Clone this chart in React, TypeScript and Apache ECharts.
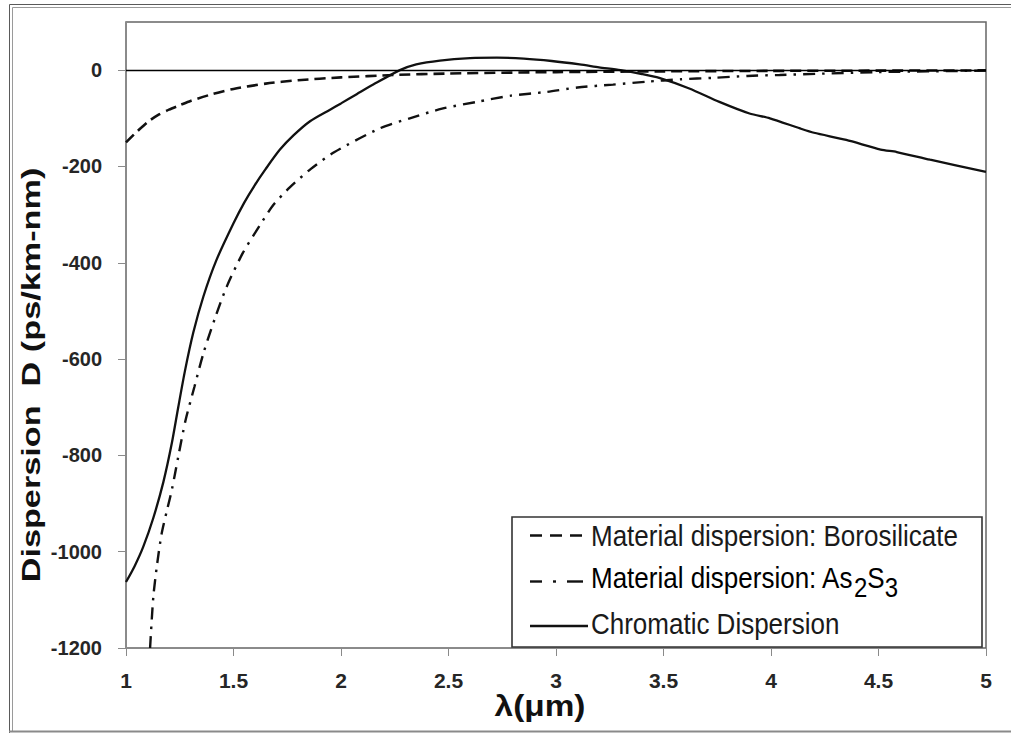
import React, { useEffect, useRef } from "react";
import * as echarts from "echarts";

// Wavelength (µm) and dispersion (ps/km-nm) samples for each curve
const boroLambda = [1.0, 1.05, 1.1, 1.15, 1.2, 1.25, 1.3, 1.4, 1.5, 1.65, 1.8, 2.0, 2.25, 2.5, 3.0, 3.5, 4.0, 4.5, 5.0];
const boroD = [-150, -128, -108, -93, -82, -73, -64, -50, -39, -28, -21, -15, -10, -7, -4, -2.5, -1.5, -1, -0.5];

const asLambda = [1.112, 1.127, 1.145, 1.166, 1.19, 1.213, 1.243, 1.277, 1.318, 1.36, 1.414, 1.468, 1.543, 1.623, 1.685, 1.763, 1.86, 1.97, 2.18, 2.32, 2.47, 2.63, 2.79, 2.96, 3.1, 3.265, 3.42, 3.58, 3.73, 3.89, 4.04, 4.5, 5.0];
const asD = [-1200, -1094, -1025, -962, -915, -872, -803, -727, -658, -588, -515, -450, -380, -322, -280, -243, -205, -170, -121, -100, -80, -66, -53, -45, -36, -30, -24, -19, -16, -12, -10, -4, -1];

const chromLambda = [1.0, 1.04, 1.08, 1.127, 1.174, 1.213, 1.243, 1.274, 1.313, 1.36, 1.42, 1.5, 1.55, 1.6, 1.65, 1.716, 1.78, 1.856, 1.949, 2.0, 2.073, 2.15, 2.274, 2.35, 2.46, 2.6, 2.725, 2.85, 2.98, 3.11, 3.2, 3.3, 3.4, 3.48, 3.62, 3.76, 3.9, 3.995, 4.135, 4.2, 4.35, 4.51, 4.585, 4.74, 5.0];
const chromD = [-1063, -1030, -990, -930, -855, -775, -700, -625, -545, -470, -395, -318, -275, -238, -205, -165, -135, -106, -82, -69, -50, -30, 0, 12, 20, 25, 26, 24, 19, 12, 6, 0, -8, -16, -38, -66, -90, -100, -121, -130, -145, -165, -170, -186, -211];

const yTickValues = [-1200, -1000, -800, -600, -400, -200, 0];

const seriesNames = [
  "Material dispersion: Borosilicate",
  "Material dispersion: As2S3",
  "Chromatic Dispersion",
];

const pairs = (xs: number[], ys: number[]) => xs.map((x, i) => [x, ys[i]]);

const textFont = "'Liberation Sans', Arial, sans-serif";
const ink = "#111";

export default function App() {
  const ref = useRef<HTMLDivElement>(null);

  useEffect(() => {
    if (!ref.current) return;
    const chart = echarts.init(ref.current, undefined, { renderer: "svg" });

    const legendText = (x: number, y: number, text: string) => ({
      type: "text",
      x,
      y,
      scaleY: 1.16,
      z: 20,
      style: {
        text,
        fill: "#1a1a1a",
        font: `26px ${textFont}`,
        align: "left",
        verticalAlign: "middle",
      },
    });

    const lineSeries = (i: number, xs: number[], ys: number[], lineStyle: object, z: number) => ({
      name: seriesNames[i],
      type: "line",
      data: pairs(xs, ys),
      showSymbol: false,
      symbol: "none",
      smooth: 0.25,
      lineStyle,
      emphasis: { disabled: true },
      z,
    });

    chart.setOption({
      animation: false,
      backgroundColor: "#fff",
      grid: {
        left: 126,
        right: 25,
        top: 22,
        bottom: 85,
        show: true,
        borderColor: "#666",
        borderWidth: 1.5,
        backgroundColor: "#fff",
      },
      xAxis: {
        type: "value",
        min: 1,
        max: 5,
        interval: 0.5,
        axisLine: { show: true, onZero: false, lineStyle: { color: "#8a8a8a", width: 1 } },
        axisTick: { show: true, length: 8, lineStyle: { color: "#8a8a8a" } },
        splitLine: { show: false },
        axisLabel: {
          margin: 22,
          color: "#262626",
          fontFamily: textFont,
          fontWeight: "bold",
          fontSize: 21,
          formatter: (v: number) => String(v),
        },
      },
      yAxis: {
        type: "value",
        min: -1200,
        max: 100,
        interval: 200,
        axisLine: { show: true, lineStyle: { color: "#8a8a8a", width: 1 } },
        axisTick: {
          show: true,
          length: 8,
          customValues: yTickValues,
          lineStyle: { color: "#8a8a8a" },
        },
        splitLine: { show: false },
        axisLabel: {
          customValues: yTickValues,
          margin: 24,
          color: "#262626",
          fontFamily: textFont,
          fontWeight: "bold",
          fontSize: 20,
          formatter: (v: number) => String(v),
        },
      },
      series: [
        lineSeries(0, boroLambda, boroD, { color: ink, width: 2.6, type: [11, 6], cap: "butt" }, 3),
        lineSeries(1, asLambda, asD, { color: ink, width: 2.4, type: [12, 7, 2.5, 7], cap: "butt" }, 3),
        {
          ...lineSeries(2, chromLambda, chromD, { color: ink, width: 2.3, type: "solid" }, 4),
          markLine: {
            silent: true,
            symbol: ["none", "none"],
            label: { show: false },
            lineStyle: { color: "#000", width: 1.3, type: "solid" },
            emphasis: { disabled: true },
            data: [{ yAxis: 0 }],
          },
        },
      ],
      graphic: {
        elements: [
          // picture frame
          {
            type: "polyline",
            z: 30,
            shape: { points: [[9.5, 733], [9.5, 4.5], [1011, 4.5]] },
            style: { stroke: "#5a5a5a", lineWidth: 1, fill: null },
          },
          {
            type: "polyline",
            z: 30,
            shape: { points: [[12.5, 731], [12.5, 7.5], [1011, 7.5]] },
            style: { stroke: "#9a9a9a", lineWidth: 1, fill: null },
          },
          {
            type: "line",
            z: 30,
            shape: { x1: 9, y1: 731.5, x2: 1011, y2: 731.5 },
            style: { stroke: "#8a8a8a", lineWidth: 2 },
          },
          // axis titles
          {
            type: "text",
            x: 31,
            y: 375,
            rotation: Math.PI / 2,
            scaleX: 1.37,
            z: 20,
            style: {
              text: "Dispersion  D (ps/km-nm)",
              fill: "#111",
              font: `bold 25px ${textFont}`,
              align: "center",
              verticalAlign: "middle",
            },
          },
          {
            type: "text",
            x: 540,
            y: 706,
            scaleX: 1.15,
            z: 20,
            style: {
              text: "λ(μm)",
              fill: "#111",
              font: `bold 29px ${textFont}`,
              align: "center",
              verticalAlign: "middle",
            },
          },
          // legend box
          {
            type: "rect",
            z: 19,
            shape: { x: 512, y: 517, width: 470, height: 130 },
            style: { fill: "#fff", stroke: "#333", lineWidth: 1.6 },
          },
          {
            type: "line",
            z: 20,
            shape: { x1: 530, y1: 535.5, x2: 586, y2: 535.5 },
            style: { stroke: ink, lineWidth: 2.6, lineDash: [12, 8] },
          },
          {
            type: "line",
            z: 20,
            shape: { x1: 530, y1: 581.5, x2: 542, y2: 581.5 },
            style: { stroke: ink, lineWidth: 2.4 },
          },
          {
            type: "line",
            z: 20,
            shape: { x1: 553, y1: 581.5, x2: 556, y2: 581.5 },
            style: { stroke: ink, lineWidth: 2.4 },
          },
          {
            type: "line",
            z: 20,
            shape: { x1: 567, y1: 581.5, x2: 583, y2: 581.5 },
            style: { stroke: ink, lineWidth: 2.4 },
          },
          {
            type: "line",
            z: 20,
            shape: { x1: 530, y1: 626, x2: 588, y2: 626 },
            style: { stroke: ink, lineWidth: 2.3 },
          },
          legendText(591, 536, seriesNames[0]),
          {
            type: "text",
            x: 591,
            y: 562.6,
            scaleY: 1.16,
            z: 20,
            style: {
              text: "{a|Material dispersion: As}{b|2}{a|S}{b|3}",
              align: "left",
              verticalAlign: "top",
              rich: {
                a: {
                  fontFamily: textFont,
                  fontSize: 26,
                  lineHeight: 30,
                  verticalAlign: "top",
                  color: "#1a1a1a",
                },
                b: {
                  fontFamily: textFont,
                  fontSize: 24,
                  lineHeight: 30,
                  verticalAlign: "top",
                  padding: [9, 0, 0, 0],
                  color: "#1a1a1a",
                },
              },
            },
          },
          legendText(591, 624, seriesNames[2]),
        ],
      },
    });

    return () => chart.dispose();
  }, []);

  return (
    <div
      ref={ref}
      style={{ position: "fixed", left: 0, top: 0, width: 1011, height: 733, background: "#fff" }}
    />
  );
}
